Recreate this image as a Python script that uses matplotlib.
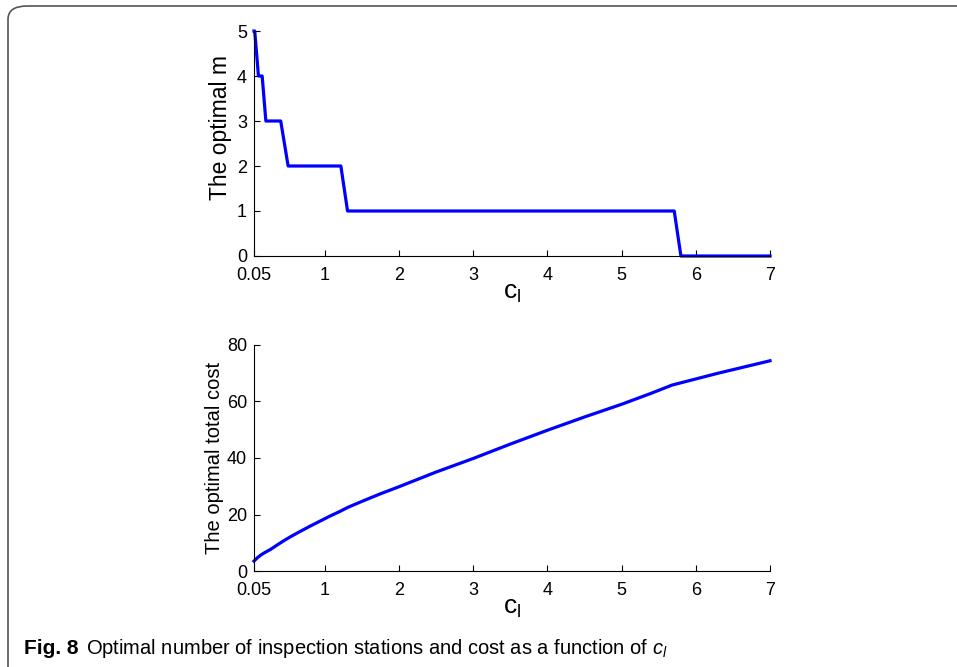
import matplotlib.pyplot as plt
from matplotlib.patches import FancyBboxPatch

# optimal number of stations vs c_l (vertices of the step curve)
c_m = [0.05, 0.06, 0.11, 0.16, 0.21, 0.41, 0.51, 1.22, 1.31, 5.71, 5.80, 7.0]
m_opt = [5, 5, 4, 4, 3, 3, 2, 2, 1, 1, 0, 0]

# optimal total cost vs c_l
c_cost = [0.05, 0.1, 0.15, 0.2, 0.27, 0.35, 0.45, 0.54, 0.65, 0.8, 0.95, 1.07, 1.2, 1.32,
          1.5, 1.75, 2.0, 2.5, 3.0, 3.5, 4.0, 4.5, 5.0, 5.4, 5.68, 6.3, 7.0]
cost = [3.5, 4.8, 5.8, 6.6, 7.6, 9.0, 10.7, 12.1, 13.7, 15.8, 17.8, 19.4, 21.0, 22.6,
        24.6, 27.3, 29.8, 35.0, 39.8, 44.9, 49.8, 54.5, 59.0, 62.9, 65.8, 70.0, 74.4]

xticks = [0.05, 1, 2, 3, 4, 5, 6, 7]
xticklabels = ['0.05', '1', '2', '3', '4', '5', '6', '7']

plt.rcParams['font.family'] = ['Liberation Sans', 'DejaVu Sans']
plt.rcParams['mathtext.fontset'] = 'custom'
plt.rcParams['mathtext.rm'] = 'Liberation Sans'
plt.rcParams['mathtext.it'] = 'Liberation Sans:italic'

fig = plt.figure(figsize=(9.57, 6.67), dpi=100)

# rounded frame of the figure box
frame = FancyBboxPatch((8 / 957, -0.05), 1.2, 1.05 - 6 / 667,
                       boxstyle='round,pad=0,rounding_size=0.02',
                       transform=fig.transFigure, fill=False,
                       edgecolor='#555555', linewidth=1.2, clip_on=False)
fig.patches.append(frame)

ax1 = fig.add_axes([0.2654, 0.6162, 0.5392, 0.3373])
ax2 = fig.add_axes([0.2654, 0.1439, 0.5392, 0.3389])

def style(ax, yticks):
    for s in ['top', 'right']:
        ax.spines[s].set_visible(False)
    ax.set_xlim(0.05, 7)
    ax.set_xticks(xticks)
    ax.set_xticklabels(xticklabels)
    ax.set_yticks(yticks)
    ax.tick_params(direction='in', length=4, width=0.8, labelsize=13)
    ax.tick_params(axis='x', pad=8)
    ax.tick_params(axis='y', pad=5)
    ax.set_xlabel(r'$\mathrm{c_l}$', fontsize=19, labelpad=-2)

ax1.plot(c_m, m_opt, color='#0000ff', linewidth=2.3, clip_on=False)
ax1.set_ylim(0, 5)
style(ax1, [0, 1, 2, 3, 4, 5])
ax1.set_ylabel('The optimal m', fontsize=16.5)
ax1.yaxis.set_label_coords(-0.042, 0.57)

ax2.plot(c_cost, cost, color='#0000ff', linewidth=2.3, clip_on=False)
ax2.set_ylim(0, 80)
style(ax2, [0, 20, 40, 60, 80])
ax2.set_ylabel('The optimal total cost', fontsize=14.5)
ax2.yaxis.set_label_coords(-0.058, 0.5)

fig.text(24 / 957, 1 - 648 / 667, 'Fig. 8', fontsize=15, fontweight='bold',
         va='center', ha='left')
fig.text(86 / 957, 1 - 648 / 667,
         r'Optimal number of inspection stations and cost as a function of $c_l$',
         fontsize=14.5, va='center', ha='left')

fig.savefig('out.png', dpi=100)
